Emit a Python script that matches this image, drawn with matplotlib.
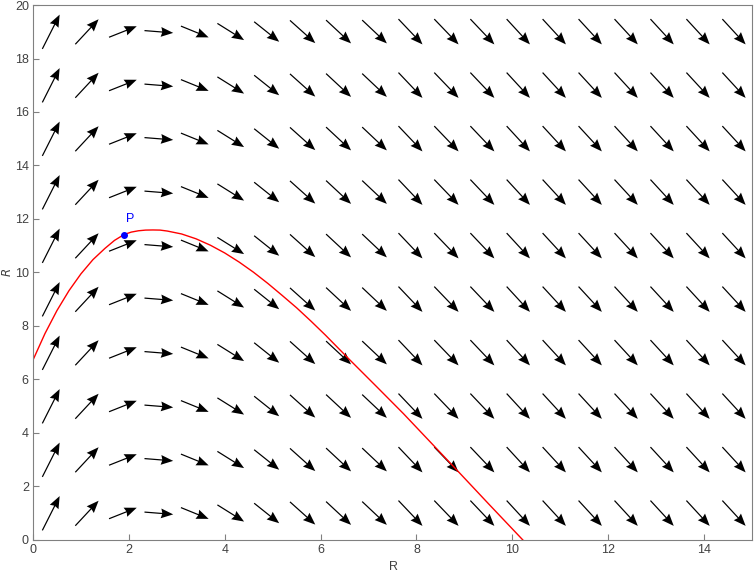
import numpy as np
import matplotlib
matplotlib.use("Agg")
import matplotlib.pyplot as plt

# direction field grid (arrow centres)
col_x = [0.375, 1.125, 1.875, 2.625, 3.375, 4.125, 4.875, 5.625, 6.375, 7.125,
         7.875, 8.625, 9.375, 10.125, 10.875, 11.625, 12.375, 13.125, 13.875, 14.625]
row_y = [1, 3, 5, 7, 9, 11, 13, 15, 17, 19]

# arrow components per column (same in every row)
col_u = [0.361, 0.486, 0.578, 0.599, 0.578, 0.557, 0.522, 0.528, 0.522, 0.515,
         0.501, 0.507, 0.501, 0.486, 0.486, 0.486, 0.486, 0.486, 0.486, 0.486]
col_v = [1.282, 0.935, 0.411, -0.086, -0.422, -0.624, -0.748, -0.849, -0.871, -0.871,
         -0.946, -0.946, -0.946, -0.946, -0.946, -0.946, -0.946, -0.946, -0.946, -0.946]

# red trajectory
traj_x = [0, 0.25, 0.5, 0.75, 1.0, 1.25, 1.5, 1.7, 1.9, 2.05, 2.2, 2.35, 2.5, 2.65,
          2.8, 3.1, 3.4, 3.7, 4.0, 4.3, 4.6, 4.9, 5.2, 5.5, 5.8, 6.1, 6.6, 7.17,
          7.73, 8.28, 8.84, 9.5, 10.22]
traj_y = [6.73, 7.72, 8.58, 9.32, 9.95, 10.48, 10.9, 11.2, 11.42, 11.51, 11.56,
          11.585, 11.59, 11.585, 11.55, 11.44, 11.26, 11.02, 10.73, 10.39, 10.01,
          9.59, 9.14, 8.68, 8.18, 7.66, 6.75, 5.73, 4.72, 3.68, 2.62, 1.36, 0.0]

p_x, p_y = 1.9, 11.42

fig = plt.figure(figsize=(7.54, 5.75), dpi=100)
ax = fig.add_axes([0.0438, 0.0609, 0.9535, 0.9304])

X, Y = np.meshgrid(col_x, row_y)
U = np.tile(col_u, (len(row_y), 1))
V = np.tile(col_v, (len(row_y), 1))
ax.quiver(X, Y, U, V, angles='xy', scale_units='xy', scale=1, pivot='mid',
          color='black', width=0.0017, headwidth=8, headlength=10,
          headaxislength=9)

ax.plot(traj_x, traj_y, color='red', lw=1.0)
ax.plot([p_x], [p_y], 'o', color='blue', ms=4)
ax.text(p_x + 0.05, p_y + 0.35, 'P', color='blue', fontsize=9,
        family='Liberation Sans', ha='left', va='bottom')

ax.set_xlim(0, 15)
ax.set_ylim(0, 20)
ax.set_xticks(range(0, 15, 2))
ax.set_yticks(range(0, 21, 2))
for s in ax.spines.values():
    s.set_color('#808080')
ax.tick_params(direction='in', colors='#808080', labelcolor='#404040',
               labelsize=9, length=4, pad=3)
for lab in ax.get_xticklabels() + ax.get_yticklabels():
    lab.set_family('Liberation Sans')

# axis labels placed by hand, the margins are tight
fig.text(393 / 754, 1 - 567 / 575, 'R', fontsize=9, color='#404040',
         family='Liberation Sans', ha='center', va='center')
fig.text(7 / 754, 1 - 272 / 575, r'$\tilde{R}$', fontsize=8.5, color='#404040',
         rotation=90, ha='center', va='center')

fig.savefig('out.png', dpi=100)
